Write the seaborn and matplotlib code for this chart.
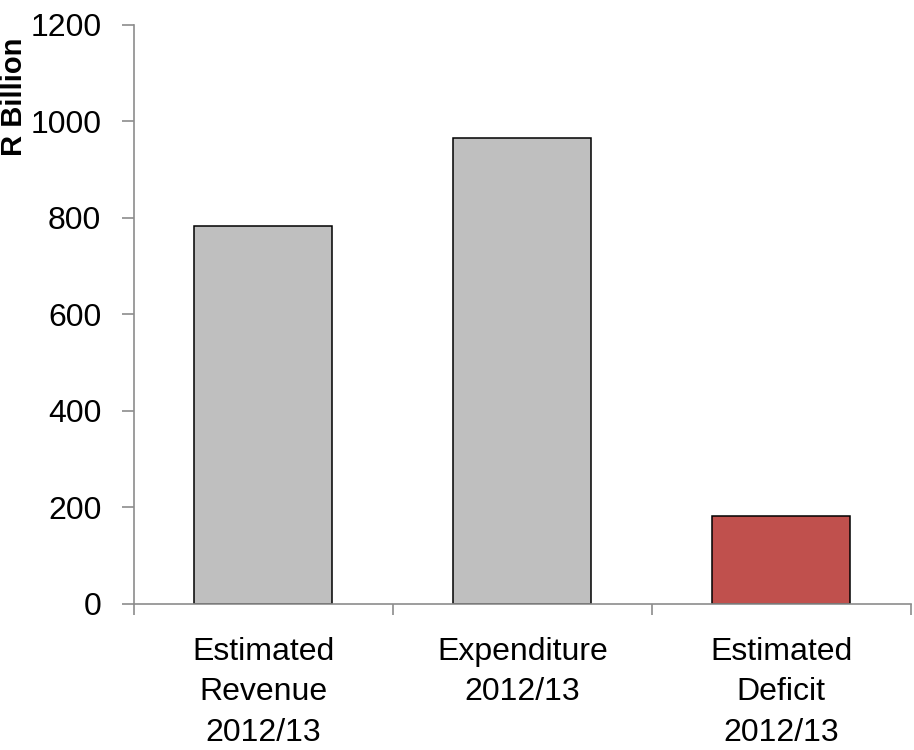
import matplotlib
matplotlib.use("Agg")
import matplotlib.pyplot as plt
from matplotlib import font_manager
from matplotlib.ticker import FixedLocator
import seaborn as sns
import pandas as pd

# Budget figures, R billion
categories = ["Estimated\nRevenue\n2012/13", "Expenditure\n2012/13", "Estimated\nDeficit\n2012/13"]
values = [783, 964, 181]
bar_colors = ["#BFBFBF", "#BFBFBF", "#C0504D"]
y_ticks = [0, 200, 400, 600, 800, 1000, 1200]

sns.set_theme(style="white")
installed = {f.name for f in font_manager.fontManager.ttflist}
narrow = "Liberation Sans Narrow" if "Liberation Sans Narrow" in installed else "Liberation Sans"
plt.rcParams["font.family"] = [narrow, "DejaVu Sans"]

df = pd.DataFrame({"category": categories, "value": values})

fig = plt.figure(figsize=(9.14, 7.5), dpi=100)
ax = fig.add_axes([0.1466, 0.195, 0.8498, 0.7723])

sns.barplot(data=df, x="category", y="value", hue="category",
            palette=bar_colors, legend=False, width=0.533,
            edgecolor="black", linewidth=1.1, saturation=1, ax=ax)

ax.set_xlim(-0.5, len(categories) - 0.5)
ax.set_ylim(0, 1200)
ax.yaxis.set_major_locator(FixedLocator(y_ticks))

axis_grey = "#8C8C8C"
for side in ("top", "right"):
    ax.spines[side].set_visible(False)
for side in ("left", "bottom"):
    ax.spines[side].set_color(axis_grey)
    ax.spines[side].set_linewidth(1.2)

ax.tick_params(axis="y", which="major", direction="out", length=8.5, width=1.2,
               color=axis_grey, pad=15, labelsize=23, labelcolor="black", left=True)
ax.tick_params(axis="x", which="major", length=0, pad=24, labelsize=23, labelcolor="black")
ax.set_xticks([-0.5, 0.5, 1.5, 2.5], minor=True)
ax.tick_params(axis="x", which="minor", direction="out", length=8, width=1.2,
               color=axis_grey, bottom=True)
for lbl in ax.get_xticklabels():
    lbl.set_linespacing(1.45)

ax.set_xlabel("")
ax.set_ylabel("R Billion", fontsize=21, fontweight="bold", color="black",
              family=["Liberation Sans", "DejaVu Sans"])
ax.yaxis.set_label_coords(-0.1365, 0.875)
ax.grid(False)

fig.savefig("out.png", dpi=100, facecolor="white")
